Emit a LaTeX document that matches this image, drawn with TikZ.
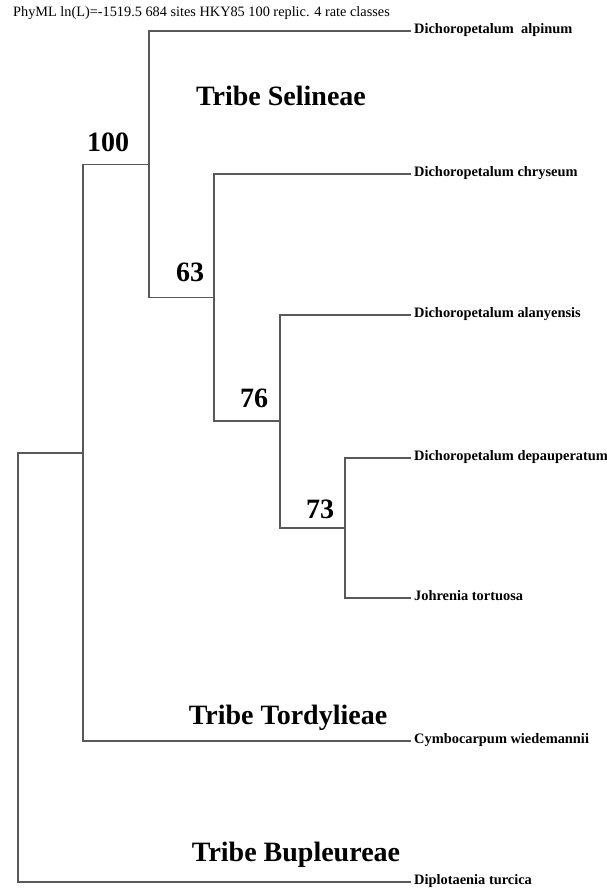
\documentclass[tikz,border=0pt]{standalone}
\usepackage{fontspec}
\setmainfont{Liberation Serif}
\usepackage{tikz}
\usetikzlibrary{positioning, calc}

\begin{document}
\begin{tikzpicture}[x=1pt, y=-1pt,
  branch/.style={draw=black!65, line width=1.3pt},
  leaf/.style={anchor=west, inner xsep=3pt, inner ysep=0pt, font=\fontsize{14.4}{16}\selectfont\bfseries, text height=0.7em, text depth=0.22em},
  boot/.style={inner sep=0pt, font=\fontsize{28}{30}\selectfont\bfseries},
  tribe/.style={inner sep=0pt, font=\fontsize{28}{30}\selectfont\bfseries}]
\useasboundingbox (0,0) rectangle (607,889);
% header line of the run
\node[anchor=west, inner sep=0pt, font=\fontsize{14.3}{16}\selectfont] (head) at (13,13) {PhyML ln(L)=-1519.5 684 sites HKY85 100 replic. 4 rate classes};
% internal nodes of the tree
\coordinate (root) at (18,667.5);
\coordinate (nA) at (83,453);
\coordinate (nB) at (149,164.5);
\coordinate (nC) at (214,297.5);
\coordinate (nD) at (280,421);
\coordinate (nE) at (345,528);
% taxa
\node[leaf] (alp) at (411,31) {Dichoropetalum\ \ alpinum};
\node[leaf] (chr) at (411,174) {Dichoropetalum chryseum};
\node[leaf] (ala) at (411,315) {Dichoropetalum alanyensis};
\node[leaf] (dep) at (411,458) {Dichoropetalum depauperatum};
\node[leaf] (joh) at (411,598) {Johrenia tortuosa};
\node[leaf] (cym) at (411,741) {Cymbocarpum wiedemannii};
\node[leaf] (dip) at (411,882) {Diplotaenia turcica};
% branches
\draw[branch] (root) |- (nA);
\draw[branch] (root) |- (dip.west);
\draw[branch] (nA) |- (nB);
\draw[branch] (nA) |- (cym.west);
\draw[branch] (nB) |- (alp.west);
\draw[branch] (nB) |- (nC);
\draw[branch] (nC) |- (chr.west);
\draw[branch] (nC) |- (nD);
\draw[branch] (nD) |- (ala.west);
\draw[branch] (nD) |- (nE);
\draw[branch] (nE) |- (dep.west);
\draw[branch] (nE) |- (joh.west);
% bootstrap support
\node[boot] (bs100) at (108,142) {100};
\node[boot] (bs63) at (190,272) {63};
\node[boot] (bs76) at (254,398) {76};
\node[boot] (bs73) at (320,509) {73};
% tribes
\node[tribe] (selin) at (281,96) {Tribe Selineae};
\node[tribe] (tordy) at (288,718) {Tribe Tordylieae};
\node[tribe] (bupl) at (296,855) {Tribe Bupleureae};
\end{tikzpicture}
\end{document}
